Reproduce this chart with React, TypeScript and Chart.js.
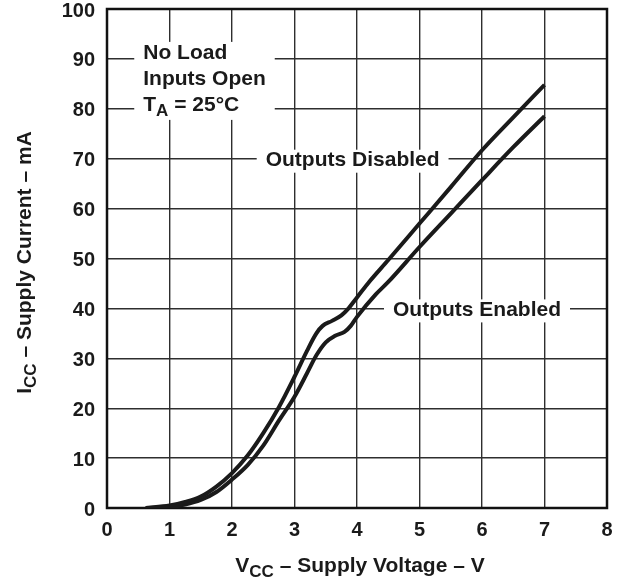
import React, { useEffect, useRef } from 'react';
import { Chart, registerables } from 'chart.js';

Chart.register(...registerables);

// Supply voltage (V) and supply current (mA)
const voltageDisabled = [0.62, 1.0, 1.25, 1.5, 1.75, 2.0, 2.25, 2.5, 2.75, 3.0, 3.2, 3.35, 3.45, 3.6, 3.75, 3.85, 4.0, 4.2, 4.5, 5.0, 5.5, 6.0, 6.5, 7.0];
const currentDisabled = [0.0, 0.5, 1.2, 2.3, 4.3, 7.0, 10.5, 15.0, 20.2, 26.3, 31.5, 35.0, 36.5, 37.5, 38.6, 39.8, 42.2, 45.4, 49.7, 57.0, 64.3, 71.7, 78.3, 84.8];

const voltageEnabled = [0.62, 1.0, 1.25, 1.5, 1.75, 2.0, 2.25, 2.5, 2.75, 3.0, 3.2, 3.35, 3.5, 3.65, 3.8, 3.9, 4.0, 4.3, 4.5, 5.0, 5.5, 6.0, 6.5, 7.0];
const currentEnabled = [0.0, 0.2, 0.7, 1.6, 3.2, 5.7, 8.6, 12.5, 17.5, 22.3, 27.0, 30.6, 33.2, 34.5, 35.3, 36.5, 38.3, 42.8, 45.3, 52.3, 59.0, 65.7, 72.3, 78.5];

const xTickValues = [0, 1, 2, 3, 4, 5, 6, 7, 8];
const yTickValues = [0, 10, 20, 30, 40, 50, 60, 70, 80, 90, 100];

const noteLines = ['No Load', 'Inputs Open'];
const labelDisabled = 'Outputs Disabled';
const labelEnabled = 'Outputs Enabled';

const FONT = '"Liberation Sans", Arial, Helvetica, sans-serif';
const INK = '#1a1a1a';

type Part = { text: string; sub?: boolean };

function richWidth(ctx: CanvasRenderingContext2D, parts: Part[], size: number, subSize: number) {
  let w = 0;
  for (const p of parts) {
    ctx.font = `bold ${p.sub ? subSize : size}px ${FONT}`;
    w += ctx.measureText(p.text).width;
  }
  return w;
}

function drawRich(ctx: CanvasRenderingContext2D, parts: Part[], x: number, y: number, size: number, subSize: number, subShift: number) {
  let cx = x;
  for (const p of parts) {
    ctx.font = `bold ${p.sub ? subSize : size}px ${FONT}`;
    ctx.fillText(p.text, cx, p.sub ? y + subShift : y);
    cx += ctx.measureText(p.text).width;
  }
}

const overlayPlugin = {
  id: 'overlay',
  beforeDatasetsDraw(chart: any) {
    const { ctx, chartArea: a, scales } = chart;
    const xs = scales.x;
    const ys = scales.y;
    ctx.save();
    ctx.fillStyle = INK;
    ctx.textAlign = 'left';
    ctx.textBaseline = 'alphabetic';

    // Conditions note
    const noteSize = 21;
    const tParts: Part[] = [{ text: 'T' }, { text: 'A', sub: true }, { text: ' = 25°C' }];
    const nx = xs.getPixelForValue(0.58);
    const nb = ys.getPixelForValue(90);
    ctx.font = `bold ${noteSize}px ${FONT}`;
    let maxW = 0;
    for (const l of noteLines) maxW = Math.max(maxW, ctx.measureText(l).width);
    maxW = Math.max(maxW, richWidth(ctx, tParts, noteSize, 17));
    ctx.fillStyle = '#ffffff';
    ctx.fillRect(nx - 9, nb - 17, maxW + 18, 26 * 2 + 26);
    ctx.fillStyle = INK;
    ctx.font = `bold ${noteSize}px ${FONT}`;
    noteLines.forEach((l, i) => ctx.fillText(l, nx, nb + 26 * i));
    drawRich(ctx, tParts, nx, nb + 52, noteSize, 17, 5);

    // Curve labels
    const drawLabel = (text: string, vx: number, vy: number) => {
      ctx.font = `bold ${noteSize}px ${FONT}`;
      const w = ctx.measureText(text).width;
      const cx = xs.getPixelForValue(vx);
      const cy = ys.getPixelForValue(vy) + 2;
      ctx.fillStyle = '#ffffff';
      ctx.fillRect(cx - w / 2 - 9, cy - 11, w + 18, 23);
      ctx.fillStyle = INK;
      ctx.textAlign = 'center';
      ctx.textBaseline = 'middle';
      ctx.fillText(text, cx, cy);
      ctx.textAlign = 'left';
      ctx.textBaseline = 'alphabetic';
    };
    drawLabel(labelDisabled, 3.93, 70);
    drawLabel(labelEnabled, 5.92, 40);

    // Frame
    ctx.strokeStyle = '#111111';
    ctx.lineWidth = 2.5;
    ctx.strokeRect(a.left, a.top, a.right - a.left, a.bottom - a.top);
    ctx.restore();
  },
  afterDraw(chart: any) {
    const { ctx, chartArea: a } = chart;
    ctx.save();
    ctx.fillStyle = INK;
    ctx.textBaseline = 'alphabetic';
    ctx.textAlign = 'left';
    const size = 21;
    const sub = 17;

    // X axis title
    const xParts: Part[] = [{ text: 'V' }, { text: 'CC', sub: true }, { text: ' – Supply Voltage – V' }];
    const xw = richWidth(ctx, xParts, size, sub);
    const xc = (a.left + a.right) / 2 + 3;
    drawRich(ctx, xParts, xc - xw / 2, 572, size, sub, 5);

    // Y axis title (rotated)
    const yParts: Part[] = [{ text: 'I' }, { text: 'CC', sub: true }, { text: ' – Supply Current – mA' }];
    const yw = richWidth(ctx, yParts, size, sub);
    ctx.translate(31, (a.top + a.bottom) / 2 + 4);
    ctx.rotate(-Math.PI / 2);
    drawRich(ctx, yParts, -yw / 2, 0, size, sub, 5);
    ctx.restore();
  },
};

export default function App() {
  const canvasRef = useRef<HTMLCanvasElement | null>(null);

  useEffect(() => {
    if (!canvasRef.current) return;
    const chart = new Chart(canvasRef.current, {
      type: 'line',
      data: {
        datasets: [
          {
            label: labelDisabled,
            data: voltageDisabled.map((v, i) => ({ x: v, y: currentDisabled[i] })),
            borderColor: INK,
            borderWidth: 4,
            pointRadius: 0,
            cubicInterpolationMode: 'monotone',
            fill: false,
          },
          {
            label: labelEnabled,
            data: voltageEnabled.map((v, i) => ({ x: v, y: currentEnabled[i] })),
            borderColor: INK,
            borderWidth: 4,
            pointRadius: 0,
            cubicInterpolationMode: 'monotone',
            fill: false,
          },
        ],
      },
      options: {
        animation: false,
        responsive: false,
        devicePixelRatio: 1,
        layout: { padding: { top: 9, right: 17, left: 0, bottom: 0 } },
        plugins: {
          legend: { display: false },
          tooltip: { enabled: false },
        },
        scales: {
          x: {
            type: 'linear',
            min: xTickValues[0],
            max: xTickValues[xTickValues.length - 1],
            afterBuildTicks: (s: any) => { s.ticks = xTickValues.map((v) => ({ value: v })); },
            afterFit: (s: any) => { s.height = 71; s.paddingLeft = 0; s.paddingRight = 0; },
            grid: { color: '#2e2e2e', lineWidth: 1.4, drawTicks: false },
            border: { display: false },
            ticks: {
              padding: 10,
              color: INK,
              font: { family: FONT, size: 20, weight: 'bold' },
            },
          },
          y: {
            type: 'linear',
            min: yTickValues[0],
            max: yTickValues[yTickValues.length - 1],
            afterBuildTicks: (s: any) => { s.ticks = yTickValues.map((v) => ({ value: v })); },
            afterFit: (s: any) => { s.width = 107; s.paddingTop = 0; s.paddingBottom = 0; },
            grid: { color: '#2e2e2e', lineWidth: 1.4, drawTicks: false },
            border: { display: false },
            ticks: {
              padding: 12,
              labelOffset: 2,
              color: INK,
              font: { family: FONT, size: 20, weight: 'bold' },
            },
          },
        },
      } as any,
      plugins: [overlayPlugin],
    });
    return () => chart.destroy();
  }, []);

  return (
    <div style={{ position: 'absolute', left: 0, top: 0, width: 624, height: 579, background: '#fff' }}>
      <canvas ref={canvasRef} width={624} height={579} />
    </div>
  );
}
